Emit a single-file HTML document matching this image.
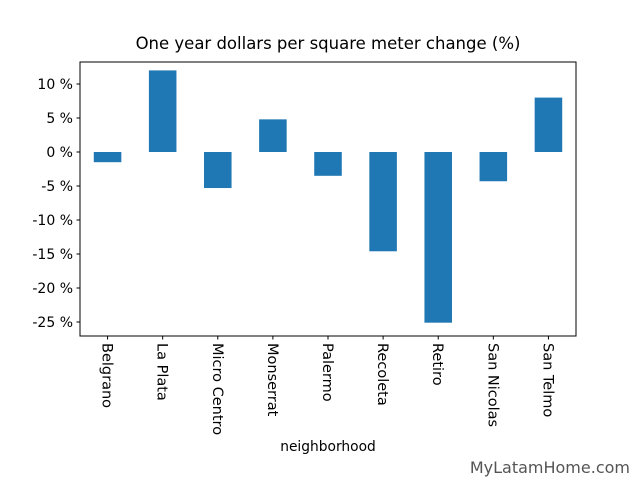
<!DOCTYPE html>
<html><head><meta charset="utf-8"><style>
body{margin:0;background:#fff;}
svg text{font-family:"DejaVu Sans","Liberation Sans",sans-serif;}
</style></head><body>
<svg id="chart" width="640" height="480" xmlns="http://www.w3.org/2000/svg">
<rect width="640" height="480" fill="#fff"/>
<text x="328" y="49" font-size="16.5" text-anchor="middle" fill="#000">One year dollars per square meter change (%)</text>
<g id="bars"></g>
<g id="yaxis"></g>
<g id="xaxis"></g>
<rect x="80" y="62" width="496" height="274" fill="none" stroke="#000" stroke-width="1"/>
<text x="328" y="451" font-size="13.8" text-anchor="middle" fill="#000">neighborhood</text>
<text x="630" y="473" font-size="16" text-anchor="end" fill="#555">MyLatamHome.com</text>
</svg>
<script>
const categories=["Belgrano","La Plata","Micro Centro","Monserrat","Palermo","Recoleta","Retiro","San Nicolas","San Telmo"];
const values=[-1.5,12.0,-5.3,4.8,-3.5,-14.6,-25.1,-4.3,8.0];
const yTicks=[10,5,0,-5,-10,-15,-20,-25];
const NS="http://www.w3.org/2000/svg";
const L=80,R=576;
function y(v){return 152-v*6.8;}
const bw=(R-L)/categories.length;
function xc(i){return L+bw*(i+0.5);}
function mk(t,a,p){const e=document.createElementNS(NS,t);for(const k in a)e.setAttribute(k,a[k]);p.appendChild(e);return e;}
const gb=document.getElementById('bars'),gy=document.getElementById('yaxis'),gx=document.getElementById('xaxis');
values.forEach((v,i)=>{
 const r=mk('rect',{x:xc(i)-bw/4,y:Math.min(y(v),y(0)),width:bw/2,height:Math.abs(y(v)-y(0)),fill:'#1f77b4'},gb);
 
 
});
yTicks.forEach(t=>{
 const l=mk('line',{x1:L-3.5,x2:L,y1:y(t),y2:y(t),stroke:'#000'},gy);
 
 
 const tx=mk('text',{x:L-7,y:y(t)+5,'font-size':14,'text-anchor':'end',fill:'#000'},gy);
 tx.textContent=t+' %';
 
 
});
categories.forEach((c,i)=>{
 const l=mk('line',{x1:xc(i),x2:xc(i),y1:336,y2:339.5,stroke:'#000'},gx);
 
 
 const tx=mk('text',{x:0,y:0,'font-size':14.5,transform:`translate(${xc(i)-5},${343}) rotate(90)`,fill:'#000'},gx);
 tx.textContent=c;
 
 
});
</script>
</body></html>
